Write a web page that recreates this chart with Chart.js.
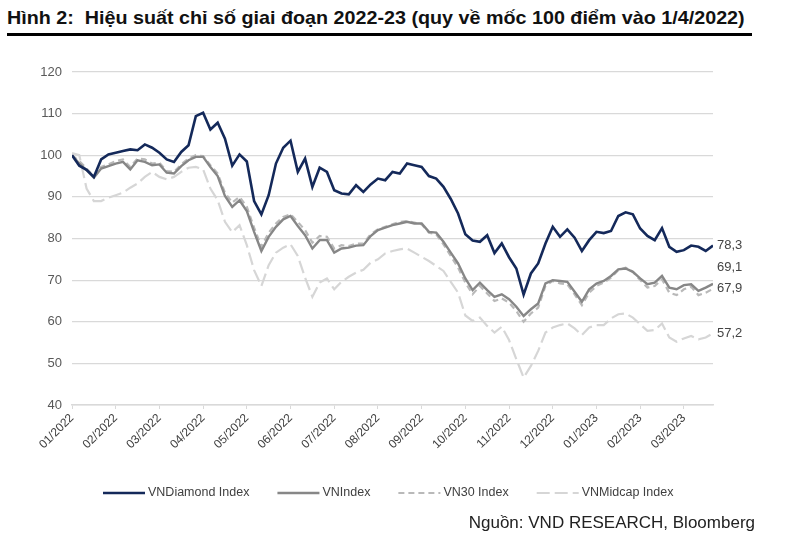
<!DOCTYPE html>
<html>
<head>
<meta charset="utf-8">
<script src="https://cdn.jsdelivr.net/npm/chart.js@4/dist/chart.umd.min.js"></script>
<style>
  html, body { margin: 0; padding: 0; background: #fff; }
  body { width: 788px; height: 542px; position: relative; overflow: hidden; font-family: "Liberation Sans", Arial, sans-serif; }
  #title { position: absolute; left: 7px; top: 7px; font-weight: bold; font-size: 19px; color: #111; white-space: nowrap; transform-origin: 0 0; font-family: "Liberation Sans Narrow", "Liberation Sans", Arial, sans-serif; }
  #rule { position: absolute; left: 7px; top: 33px; width: 745px; height: 3px; background: #000; }
  #source { position: absolute; right: 33px; top: 513px; font-size: 17px; color: #222; white-space: nowrap; }
  #chart { position: absolute; left: 0; top: 0; }
</style>
</head>
<body>
<div id="title">Hình 2:&nbsp; Hiệu suất chỉ số giai đoạn 2022-23 (quy về mốc 100 điểm vào 1/4/2022)</div>
<div id="rule"></div>
<canvas id="chart" width="788" height="542"></canvas>
<div id="source">Nguồn: VND RESEARCH, Bloomberg</div>
<script>
// nhãn tháng trên trục X
const monthLabels = ['01/2022', '02/2022', '03/2022', '04/2022', '05/2022', '06/2022', '07/2022',
    '08/2022', '09/2022', '10/2022', '11/2022', '12/2022', '01/2023', '02/2023', '03/2023'];

// số điểm dữ liệu trong mỗi tháng
const pointsPerMonth = 6;

const seriesNames = ['VNDiamond Index', 'VNIndex', 'VN30 Index', 'VNMidcap Index'];

const vnDiamond = [100, 97.5, 96.5, 94.8, 99, 100.2, 100.6, 101, 101.4, 101.2, 102.6, 101.8, 100.6, 99, 98.4,
    100.8, 102.4, 109.4, 110.2, 106.2, 107.8, 104, 97.5, 100.2, 98.5, 89, 85.8, 90.4, 98, 101.8,
    103.5, 96, 99.2, 92.4, 97, 96, 91.6, 90.8, 90.6, 92.8, 91.2, 93, 94.4, 94, 96,
    95.6, 98, 97.6, 97.2, 95, 94.4, 92.4, 89.5, 86, 81, 79.5, 79.2, 80.8, 76.5, 78.8,
    75.5, 72.8, 66.5, 71.6, 74, 78.8, 82.8, 80.4, 82.2, 80.2, 77, 79.6, 81.6, 81.3, 81.8,
    85.4, 86.3, 85.8, 82.4, 80.6, 79.6, 82.5, 78, 76.8, 77.2, 78.3, 78, 77, 78.3];

const vnIndex = [100, 98, 96.4, 94.6, 96.8, 97.4, 98, 98.4, 96.6, 98.8, 98.4, 97.6, 97.8, 95.8, 95.6,
    97.4, 98.8, 99.6, 99.6, 97.2, 95, 90.2, 87.6, 89.2, 86.6, 81.6, 77, 80.4, 82.8, 84.6,
    85.4, 83, 80.8, 77.6, 79.6, 79.6, 76.6, 77.6, 77.8, 78.3, 78.4, 80.6, 82, 82.6, 83.2,
    83.6, 84, 83.6, 83.6, 81.6, 81.4, 79.2, 76.6, 74, 70.4, 67.6, 69.4, 67.6, 66, 66.6,
    65.4, 63.6, 61.4, 63, 64.4, 69.2, 70, 69.8, 69.6, 67.2, 64.8, 67.8, 69.2, 69.8, 71,
    72.6, 72.8, 72, 70.4, 69, 69.4, 71, 68.2, 67.8, 68.8, 69, 67.4, 68.2, 69.1];

const vn30 = [100, 98.6, 96.8, 95, 97.2, 97.8, 98.6, 99, 97.2, 99.2, 99, 98, 98.2, 96.2, 96,
    97.8, 99.2, 100, 99.8, 97.6, 95.6, 91, 88.6, 90, 87.6, 82.6, 78, 81.4, 83.6, 85.2,
    85.8, 84, 82, 79, 80.6, 80.4, 77.6, 78.4, 78.2, 78.8, 78.8, 81, 82.2, 82.8, 83.4,
    84, 84.2, 83.8, 83.4, 81.4, 81, 78.6, 75.8, 73, 69.4, 66.6, 68.6, 66.8, 65, 65.6,
    64.6, 62.6, 60, 62, 63.4, 68.6, 69.8, 69.2, 69, 66.6, 64, 67, 68.6, 69.4, 70.6,
    72.4, 73, 72, 70, 68.2, 68.6, 70.2, 67, 66.4, 67.8, 68.4, 66.4, 67, 67.9];

const vnMidcap = [100.5, 100, 92, 89, 89, 89.8, 90.4, 91, 92.2, 93.2, 94.8, 96, 94.8, 94.2, 94.8,
    96, 97, 97.2, 96.6, 92, 89.2, 84, 81.5, 83.2, 78.4, 72.4, 68.6, 73.6, 76.6, 77.8,
    78.6, 75.8, 70.6, 66, 69.4, 70.4, 67.8, 69.6, 70.8, 71.8, 72.5, 74.2, 75, 76.4, 77,
    77.4, 77.6, 76.6, 75.6, 74.6, 73.4, 72.2, 69.6, 67, 61.5, 60.2, 61, 59, 57.4, 58.8,
    55.6, 51, 46.6, 49.4, 53, 57.4, 58.6, 59.2, 59.6, 58.4, 56.8, 58.6, 59.2, 59.2, 60.8,
    61.8, 62, 61, 59.4, 57.8, 58, 59.6, 56.2, 55.2, 56, 56.6, 55.8, 56.2, 57.2];

// nhãn giá trị cuối kỳ
const endLabels = ['78,3', '69,1', '67,9', '57,2'];

const yTicks = [40, 50, 60, 70, 80, 90, 100, 110, 120];

// co tiêu đề cho vừa độ rộng
const titleEl = document.getElementById('title');
titleEl.style.transform = `scaleX(${738 / titleEl.scrollWidth})`;

function toPoints(values) {
    return values.map((v, i) => ({ x: i / pointsPerMonth, y: v }));
}

const styles = [
    { color: '#14295a', width: 2.6, dash: [] },
    { color: '#878787', width: 2.4, dash: [] },
    { color: '#b9b9b9', width: 2.2, dash: [6, 4] },
    { color: '#d6d6d6', width: 2.2, dash: [13, 5] }
];

const allSeries = [vnDiamond, vnIndex, vn30, vnMidcap];

const datasets = allSeries.map((values, i) => ({
    label: seriesNames[i],
    data: toPoints(values),
    borderColor: styles[i].color,
    borderWidth: styles[i].width,
    borderDash: styles[i].dash,
    pointRadius: 0,
    tension: 0,
    fill: false
}));

// vẽ nhãn cuối đường và chú thích
const extrasPlugin = {
    id: 'extras',
    afterDatasetsDraw(chart) {
        const ctx = chart.ctx;
        const yScale = chart.scales.y;
        const area = chart.chartArea;

        // nhãn cuối, tránh chồng nhau
        const items = allSeries.map((values, i) => ({
            text: endLabels[i],
            y: yScale.getPixelForValue(parseFloat(endLabels[i].replace(',', '.')))
        })).sort((a, b) => b.y - a.y);
        for (let i = 1; i < items.length; i++) {
            if (items[i - 1].y - items[i].y < 21) items[i].y = items[i - 1].y - 21;
        }
        ctx.save();
        ctx.font = '13px "Liberation Sans", Arial, sans-serif';
        ctx.fillStyle = '#444';
        ctx.textBaseline = 'middle';
        ctx.textAlign = 'left';
        items.forEach(it => ctx.fillText(it.text, area.right + 4, it.y));

        // chú thích
        let x = 103;
        const y = 493;
        ctx.font = '12.5px "Liberation Sans", Arial, sans-serif';
        ctx.fillStyle = '#404040';
        datasets.forEach(ds => {
            ctx.beginPath();
            ctx.strokeStyle = ds.borderColor;
            ctx.lineWidth = ds.borderWidth;
            ctx.setLineDash(ds.borderDash);
            ctx.moveTo(x, y);
            ctx.lineTo(x + 42, y);
            ctx.stroke();
            ctx.setLineDash([]);
            ctx.fillText(ds.label, x + 45, y);
            x += 45 + ctx.measureText(ds.label).width + 28;
        });
        ctx.restore();
    }
};

new Chart(document.getElementById('chart'), {
    type: 'line',
    data: { datasets },
    options: {
        responsive: false,
        animation: false,
        layout: { padding: { left: 0, top: 72, right: 75, bottom: 0 } },
        plugins: { legend: { display: false }, tooltip: { enabled: false } },
        scales: {
            x: {
                type: 'linear',
                min: 0,
                max: (vnDiamond.length - 1) / pointsPerMonth,
                afterBuildTicks(scale) {
                    scale.ticks = monthLabels.map((_, i) => ({ value: i }));
                },
                afterFit(scale) { scale.height = 137; },
                ticks: {
                    minRotation: 45,
                    maxRotation: 45,
                    padding: 2,
                    color: '#404040',
                    font: { size: 12, family: '"Liberation Sans", Arial, sans-serif' },
                    callback: (v) => monthLabels[v] || ''
                },
                grid: { drawOnChartArea: false, drawTicks: true, tickLength: 4, color: '#d9d9d9' },
                border: { display: true, color: '#d9d9d9', width: 1.5 }
            },
            y: {
                min: 40,
                max: 120,
                afterBuildTicks(scale) {
                    scale.ticks = yTicks.map(v => ({ value: v }));
                },
                afterFit(scale) { scale.width = 72; },
                ticks: {
                    padding: 10,
                    color: '#595959',
                    font: { size: 13, family: '"Liberation Sans", Arial, sans-serif' }
                },
                grid: { color: '#d9d9d9', lineWidth: 1.2, drawTicks: false },
                border: { display: false }
            }
        }
    },
    plugins: [extrasPlugin]
});
</script>
</body>
</html>
